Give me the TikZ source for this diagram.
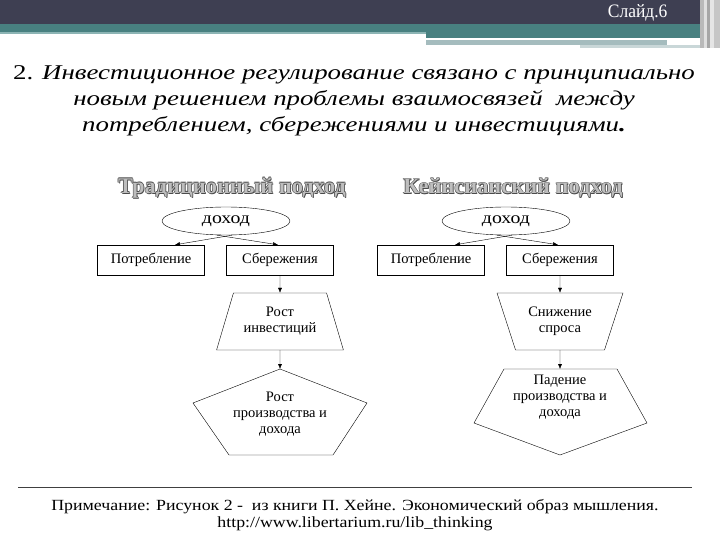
\documentclass[tikz,border=0pt]{standalone}
\usepackage{fontspec}
\setmainfont{Liberation Serif}
\newfontfamily\titlefont[FakeStretch=1.28]{Liberation Serif}
\newfontfamily\notefont[FakeStretch=1.15]{Liberation Serif}
\newfontfamily\incfont[FakeStretch=1.2]{Liberation Serif}
\newfontfamily\slidefont[FakeStretch=0.92]{Liberation Serif}
\usetikzlibrary{shapes.geometric,arrows.meta}
\definecolor{slate}{RGB}{62,63,82}
\definecolor{teal1}{RGB}{72,128,128}
\definecolor{teal2}{RGB}{140,180,180}
\definecolor{greyteal}{RGB}{165,188,190}
\definecolor{headfill}{RGB}{190,190,190}
\definecolor{headline}{RGB}{75,75,75}
\begin{document}
\begin{tikzpicture}[x=1pt,y=-1pt,
  box/.style={draw, minimum width=107pt, minimum height=30pt, font=\fontsize{14.5}{16}\selectfont},
  inc/.style={ellipse, draw, minimum width=128pt, minimum height=28pt, inner sep=1pt, font=\incfont\fontsize{16.5}{18}\selectfont},
  trap/.style={trapezium, draw, trapezium stretches=true, minimum width=127pt, minimum height=57pt,
    align=center, font=\fontsize{14.5}{16}\selectfont},
  txt/.style={align=center, font=\fontsize{14.5}{16}\selectfont},
  head/.style={font=\fontsize{22.4}{24}\selectfont\bfseries},
  arr/.style={-{Latex[length=5pt,width=4pt]}}]
\useasboundingbox (0,0) rectangle (720,540);
% header bars
\fill[slate] (0,0) rectangle (720,24);
\fill[teal1] (0,24) rectangle (700,32);
\fill[teal2] (0,32) rectangle (426,34);
\fill[teal1] (426,32) rectangle (700,38);
\fill[greyteal] (426,40) rectangle (667,45);
\fill[greyteal!60] (580,45) rectangle (707,48);
\fill[gray!55] (700,0) rectangle (704,48);
\fill[gray!25] (704,0) rectangle (707,48);
\fill[gray!70] (707,0) rectangle (710,48);
\fill[gray!20] (710,0) rectangle (714,48);
\fill[gray!45] (714,0) rectangle (720,48);
\node[text=white, font=\slidefont\fontsize{19}{21}\selectfont, anchor=east] (slide) at (671,13) {Слайд.6};

% title
\node[font=\titlefont\itshape\fontsize{21}{26}\selectfont, align=center] (title) at (354,101)
  {{\upshape 2.} Инвестиционное регулирование связано с принципиально\\
   новым решением проблемы взаимосвязей~ между\\
   потреблением, сбережениями и инвестициями{\bfseries .}};

% headings
\foreach \dx/\dy in {-0.6/0,0.6/0,0/-0.6,0/0.6,0.8/0.8}{
  \node[head, text=headline] at (232+\dx,188+\dy) {Традиционный подход};
  \node[head, text=headline] at (513+\dx,188+\dy) {Кейнсианский подход};
}
\node[head, text=headfill] (head1) at (232,188) {Традиционный подход};
\node[head, text=headfill] (head2) at (513,188) {Кейнсианский подход};

% traditional approach
\node[inc] (inc1) at (226,221) {доход};
\node[box] (cons1) at (151,260) {Потребление};
\node[box] (sav1) at (280,260) {Сбережения};
\node[trap, trapezium left angle=67.6, trapezium right angle=67.6] (inv1) at (280,321.5) {Рост\\инвестиций};
\coordinate (top1) at (280,369);
\draw (top1) -- (367,403) -- (333,455) -- (229,455) -- (193,403) -- cycle;
\node[txt] (gro1) at (280,414) {Рост\\производства и\\дохода};
\draw[arr] ([xshift=6pt]inc1.south) -- ([xshift=24pt]cons1.north);
\draw[arr] ([xshift=-9pt]inc1.south) -- ([xshift=-2pt]sav1.north);
\draw[arr] (sav1.south) -- (inv1.north);
\draw[arr] (inv1.south) -- (top1);

% keynesian approach
\node[inc] (inc2) at (506,221) {доход};
\node[box] (cons2) at (431,260) {Потребление};
\node[box] (sav2) at (560,260) {Сбережения};
\node[trap, trapezium left angle=112.4, trapezium right angle=112.4] (dem2) at (560,321.5) {Снижение\\спроса};
\coordinate (top2) at (560,369);
\draw (504,369) -- (617,369) -- (647,423) -- (560,455) -- (474,423) -- cycle;
\node[txt] (fall2) at (560,397) {Падение\\производства и\\дохода};
\draw[arr] ([xshift=6pt]inc2.south) -- ([xshift=24pt]cons2.north);
\draw[arr] ([xshift=-9pt]inc2.south) -- ([xshift=-2pt]sav2.north);
\draw[arr] (sav2.south) -- (dem2.north);
\draw[arr] (dem2.south) -- (top2);

% note
\draw[black!75, line width=0.8pt] (18,487) -- (692,487);
\node[font=\notefont\fontsize{15.5}{17}\selectfont] (note) at (355,507)
  {Примечание: Рисунок 2 -~ из книги П. Хейне. Экономический образ мышления.};
\node[font=\notefont\fontsize{15.5}{17}\selectfont] (url) at (355,524)
  {http://www.libertarium.ru/lib\_thinking};
\end{tikzpicture}
\end{document}
